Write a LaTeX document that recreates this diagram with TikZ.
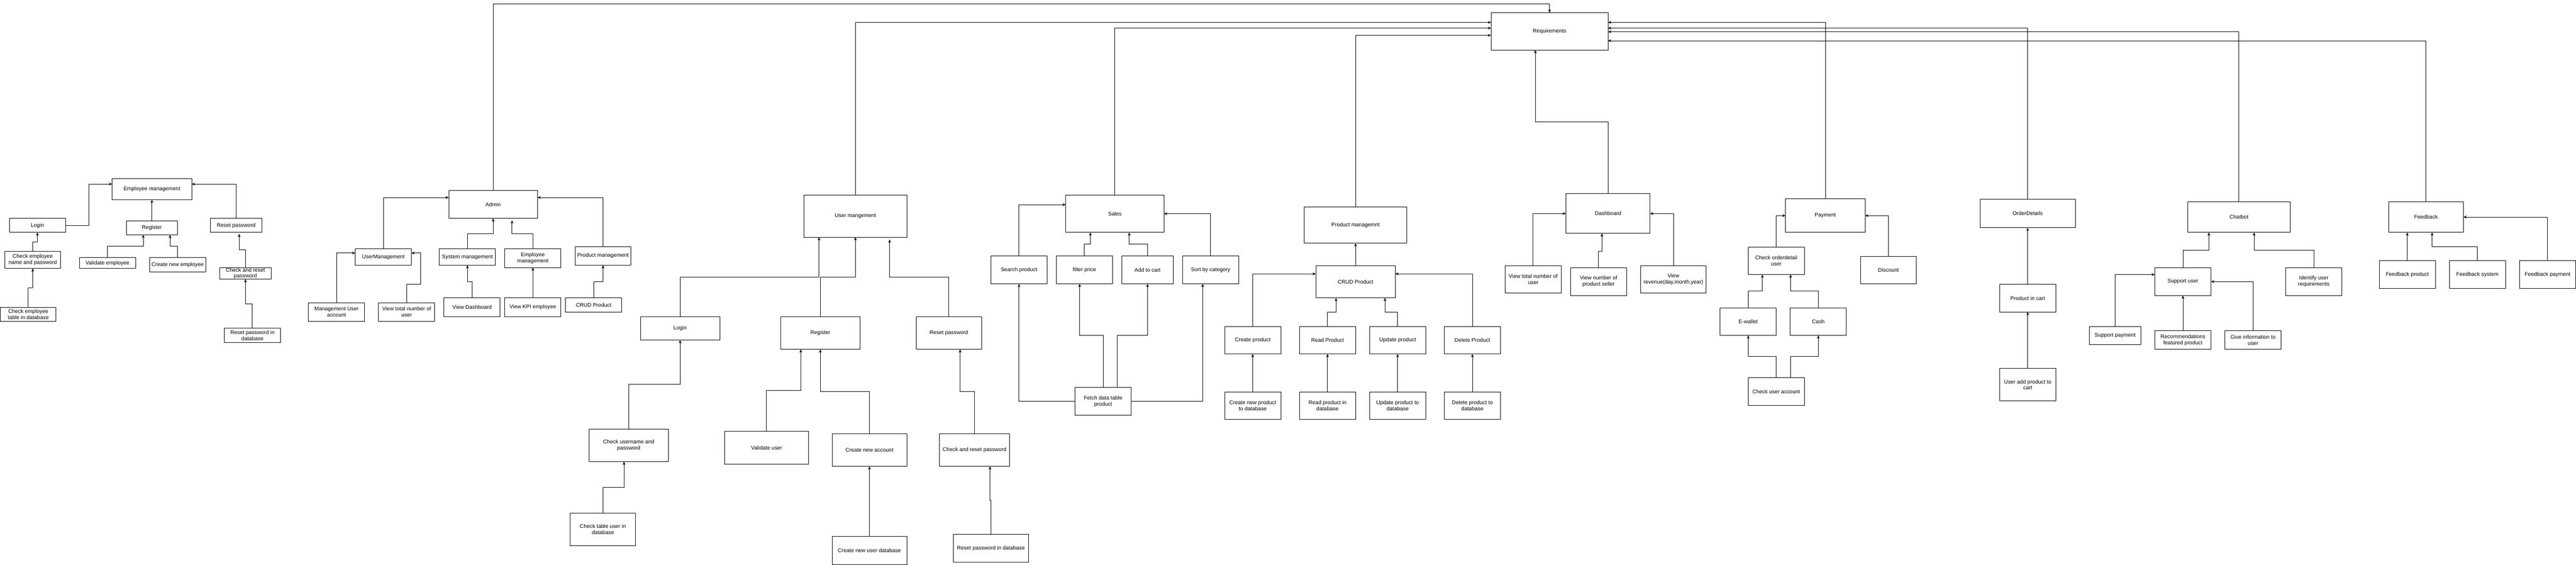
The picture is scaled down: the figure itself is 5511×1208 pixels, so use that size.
\documentclass[tikz,border=0pt]{standalone}
\usepackage{fontspec}
\setmainfont{Liberation Sans}
\usetikzlibrary{arrows.meta}
\tikzset{
  bx/.style={draw=black, line width=1pt, inner sep=0pt, outer sep=0pt, align=center, fill=white,
    font=\fontsize{11.5}{13}\selectfont},
  arr/.style={draw=black, line width=1pt, -{Stealth[length=7pt,width=6pt]}},
}
\newcommand\mybox[6]{\node[bx,minimum width=#4pt,minimum height=#5pt] (#1) at (#2,#3) {#6};}
\begin{document}
\begin{tikzpicture}[x=1pt,y=-1pt]
\useasboundingbox[fill=white] (0,0) rectangle (5511,1208);
% ---------- Employee management ----------
\mybox{empM}{325}{404.5}{170}{45}{Employee management}
\mybox{eLogin}{80}{482}{120}{30}{Login}
\mybox{eReg}{325}{487}{110}{30}{Register}
\mybox{eReset}{505}{482}{110}{30}{Reset password}
\mybox{eCheck}{70}{555.5}{120}{37}{Check employee\\name and password}
\mybox{eValid}{230}{562.5}{120}{23}{Validate employee}
\mybox{eCreate}{380}{566}{120}{30}{Create new employee}
\mybox{eCR}{525}{584.5}{110}{25}{Check and reset\\password}
\mybox{eTable}{60.5}{672}{119}{30}{Check employee\\table in database}
\mybox{eRDB}{540}{717}{120}{30}{Reset password in\\database}
% ---------- Admin ----------
\mybox{admin}{1055}{437}{190}{60}{Admin}
\mybox{aUM}{820}{549.5}{120}{35}{UserManagement}
\mybox{aSM}{1000}{549.5}{120}{35}{System management}
\mybox{aEM}{1140}{552}{120}{40}{Employee\\management}
\mybox{aPM}{1290}{547}{120}{40}{Product management}
\mybox{aMUA}{720}{667}{120}{40}{Management User\\account}
\mybox{aVTN}{870}{667}{120}{40}{View total number of\\user}
\mybox{aVD}{1010}{657}{120}{40}{View Dashboard}
\mybox{aKPI}{1140}{657}{120}{40}{View KPI employee}
\mybox{aCRUD}{1270}{652}{120}{30}{CRUD Product}
% ---------- User management ----------
\mybox{um}{1830}{462}{220}{90}{User mangement}
\mybox{uLogin}{1455}{702}{170}{50}{Login}
\mybox{uReg}{1755}{712}{170}{70}{Register}
\mybox{uReset}{2030}{712}{140}{70}{Reset password}
\mybox{uCheck}{1345}{952}{170}{70}{Check username and\\password}
\mybox{uValid}{1640}{957}{180}{70}{Validate user}
\mybox{uCreate}{1860}{962}{160}{70}{Create new account}
\mybox{uCR}{2085}{962}{150}{70}{Check and reset password}
\mybox{uTable}{1290}{1132}{140}{70}{Check table user in\\database}
\mybox{uCDB}{1860}{1177}{160}{60}{Create new user database}
\mybox{uRDB}{2120}{1172}{160}{60}{Reset password in database}
% ---------- Sales ----------
\mybox{sales}{2385}{457}{210}{80}{Sales}
\mybox{sSearch}{2180}{577}{120}{60}{Search product}
\mybox{sFilter}{2320}{577}{120}{60}{filter price}
\mybox{sAdd}{2455}{577}{110}{60}{Add to cart}
\mybox{sSort}{2590}{577}{120}{60}{Sort by category}
\mybox{sFetch}{2360}{858}{120}{60}{Fetch data table\\product}
% ---------- Product management ----------
\mybox{pm}{2900}{481.5}{220}{77}{Product managemnt}
\mybox{pCRUD}{2900}{602.5}{170}{69}{CRUD Product}
\mybox{pCreate}{2680}{727.5}{120}{59}{Create product}
\mybox{pRead}{2840}{727.5}{120}{59}{Read Product}
\mybox{pUpd}{2990}{727.5}{120}{59}{Update product}
\mybox{pDel}{3150}{727.5}{120}{59}{Delete Product}
\mybox{pCDB}{2680}{867.5}{120}{59}{Create new product\\to database}
\mybox{pRDB}{2840}{867.5}{120}{59}{Read product in\\database}
\mybox{pUDB}{2990}{867.5}{120}{59}{Update product to\\database}
\mybox{pDDB}{3150}{867.5}{120}{59}{Delete product to\\database}
% ---------- Requirements ----------
\mybox{req}{3315}{67}{250}{80}{Requirements}
% ---------- Dashboard ----------
\mybox{dash}{3440}{456.5}{180}{85}{Dashboard}
\mybox{dVTN}{3280}{597.5}{120}{59}{View total number of\\user}
\mybox{dVNP}{3420}{602}{120}{60}{View number of\\product seller}
\mybox{dRev}{3580}{597.5}{140}{59}{View\\revenue(day,month,year)}
% ---------- Payment ----------
\mybox{pay}{3905}{461}{170}{72}{Payment}
\mybox{payChk}{3800}{557.5}{120}{59}{Check orderdetail\\user}
\mybox{disc}{4040}{577.5}{120}{59}{Discount}
\mybox{ewal}{3740}{687.5}{120}{59}{E-wallet}
\mybox{cash}{3890}{687.5}{120}{59}{Cash}
\mybox{chkAcc}{3800}{837}{120}{60}{Check user account}
% ---------- OrderDetails ----------
\mybox{od}{4338}{456.5}{204}{61}{OrderDetails}
\mybox{pic}{4338}{637.5}{120}{59}{Product in cart}
\mybox{uapc}{4338}{822.5}{120}{69}{User add product to\\cart}
% ---------- Chatbot ----------
\mybox{chat}{4790}{464}{220}{66}{Chatbot}
\mybox{supU}{4670}{602}{120}{60}{Support user}
\mybox{idU}{4950}{602}{120}{60}{Identify user\\requirements}
\mybox{supP}{4525}{717.5}{110}{39}{Support payment}
\mybox{rec}{4670}{727}{120}{40}{Recommendations\\featured product}
\mybox{give}{4820}{727}{120}{40}{Give information to\\user}
% ---------- Feedback ----------
\mybox{fb}{5190}{464}{160}{66}{Feedback}
\mybox{fbP}{5150}{587}{120}{60}{Feedback product}
\mybox{fbS}{5300}{587}{120}{60}{Feedback system}
\mybox{fbPay}{5450}{587}{120}{60}{Feedback payment}

% ===== connectors: employee management =====
\draw[arr] (eLogin.east) -- ++(50.6,0) |- ([yshift=11pt]empM.west);
\draw[arr] (eReg.north) -- (empM.south);
\draw[arr] (eReset.north) |- ([yshift=11pt]empM.east);
\draw[arr] (eCheck.north) -- ++(0,-20) -| (eLogin.south);
\draw[arr] (eTable.north) -- ++(0,-41.3) -| (eCheck.south);
\draw[arr] (eValid.north) -- ++(0,-24.3) -| ([xshift=-18.6pt]eReg.south);
\draw[arr] (eCreate.north) -- ++(0,-24.3) -| ([xshift=38.8pt]eReg.south);
\draw[arr] (eCR.north) -- ++(0,-37.7) -| ([xshift=6.7pt,yshift=-3pt]eReset.south);
\draw[arr] (eRDB.north) -- ++(0,-52) -| (eCR.south);
% ===== admin =====
\draw[arr] (admin.north) |- ([yshift=19.3pt]req.north) -- (req.north);
\draw[arr] (aUM.north) |- ([yshift=14.7pt]admin.west);
\draw[arr] (aPM.north) |- ([yshift=14.7pt]admin.east);
\draw[arr] (aSM.north) -- ++(0,-32.3) -| (admin.south);
\draw[arr] (aEM.north) -- ++(0,-32.3) -| ([xshift=40.5pt,yshift=-4pt]admin.south);
\draw[arr] (aMUA.north) |- ([yshift=8.5pt]aUM.west);
\draw[arr] (aVTN.north) -- ++(0,-39.3) -- ++(30,0) |- ([yshift=8.5pt]aUM.east);
\draw[arr] (aVD.north) -- ++(0,-34.7) -| (aSM.south);
\draw[arr] (aKPI.north) -- (aEM.south);
\draw[arr] (aCRUD.north) -- ++(0,-34.7) -| (aPM.south);
% ===== user management =====
\draw[arr] (um.north) |- ([yshift=19.2pt]req.west);
\draw[arr] (uLogin.north) -- ++(0,-84.8) -| ([xshift=-77.8pt]um.south);
\draw[arr] (uReg.north) -- ++(0,-84.8) -| (um.south);
\draw[arr] (uReset.north) -- ++(0,-84.8) -| ([xshift=73.2pt,yshift=-5pt]um.south);
\draw[arr] (uCheck.north) -- ++(0,-95.2) -| (uLogin.south);
\draw[arr] (uTable.north) -- ++(0,-54.5) -| ([xshift=-10pt]uCheck.south);
\draw[arr] (uValid.north) -- ++(0,-87.4) -| ([xshift=-41.8pt]uReg.south);
\draw[arr] (uCreate.north) -- ++(0,-89.9) -| (uReg.south);
\draw[arr] (uCDB.north) -- (uCreate.south);
\draw[arr] (uCR.north) -- ++(0,-89.6) -| ([xshift=24pt]uReset.south);
\draw[arr] (uRDB.north) -- ++(0,-72) -| ([xshift=32.9pt]uCR.south);
% ===== sales =====
\draw[arr] (sales.north) |- ([yshift=6.9pt]req.west);
\draw[arr] (sSearch.north) |- ([yshift=19.4pt]sales.west);
\draw[arr] (sSort.north) |- (sales.east);
\draw[arr] (sFilter.north) -- ++(0,-24.7) -| ([xshift=-52.3pt]sales.south);
\draw[arr] (sAdd.north) -- ++(0,-24.7) -| ([xshift=30.8pt]sales.south);
\draw[arr] (sFetch.west) -| (sSearch.south);
\draw[arr] (sFetch.east) -| ([xshift=-17pt]sSort.south);
\draw[arr] (sFetch.north) -- ++(0,-110.7) -| ([xshift=-10.3pt]sFilter.south);
\draw[arr] ([xshift=30.3pt]sFetch.north) -- ++(0,-110.7) -| (sAdd.south);
% ===== product management =====
\draw[arr] (pm.north) |- ([yshift=-8.5pt]req.west);
\draw[arr] (pCRUD.north) -- (pm.south);
\draw[arr] (pCreate.north) |- ([yshift=17pt]pCRUD.west);
\draw[arr] (pDel.north) |- ([yshift=17pt]pCRUD.east);
\draw[arr] (pRead.north) -- ++(0,-30.8) -| ([xshift=-41.8pt]pCRUD.south);
\draw[arr] (pUpd.north) -- ++(0,-30.8) -| ([xshift=62.8pt]pCRUD.south);
\draw[arr] (pCDB.north) -- (pCreate.south);
\draw[arr] (pRDB.north) -- (pRead.south);
\draw[arr] (pUDB.north) -- (pUpd.south);
\draw[arr] (pDDB.north) -- (pDel.south);
% ===== dashboard =====
\draw[arr] (dash.north) -- ++(0,-153.6) -| ([xshift=-30.3pt]req.south);
\draw[arr] (dVTN.north) |- (dash.west);
\draw[arr] (dVNP.north) -- ++(0,-35) -| ([xshift=-13pt]dash.south);
\draw[arr] (dRev.north) |- (dash.east);
% ===== payment =====
\draw[arr] (pay.north) |- ([yshift=19.2pt]req.east);
\draw[arr] (payChk.north) |- (pay.west);
\draw[arr] (disc.north) |- (pay.east);
\draw[arr] (ewal.north) -- ++(0,-35.5) -| ([xshift=-29.6pt]payChk.south);
\draw[arr] (cash.north) -- ++(0,-35.5) -| ([xshift=30.6pt]payChk.south);
\draw[arr] (chkAcc.north) -- ++(0,-45) -| (ewal.south);
\draw[arr] ([xshift=30.6pt]chkAcc.north) -- ++(0,-45) -| (cash.south);
% ===== order details =====
\draw[arr] (od.north) |- ([yshift=6.9pt]req.east);
\draw[arr] (pic.north) -- (od.south);
\draw[arr] (uapc.north) -- (pic.south);
% ===== chatbot =====
\draw[arr] (chat.north) |- ([yshift=-1pt]req.east);
\draw[arr] (supU.north) -- ++(0,-37.3) -| ([xshift=-64.5pt]chat.south);
\draw[arr] (idU.north) -- ++(0,-37.3) -| ([xshift=32.4pt]chat.south);
\draw[arr] (supP.north) |- ([yshift=15pt]supU.west);
\draw[arr] (rec.north) -- (supU.south);
\draw[arr] (give.north) |- (supU.east);
% ===== feedback =====
\draw[arr] (fb.north) |- ([yshift=-20.1pt]req.east);
\draw[arr] (fbP.north) -- (fbP.north |- fb.south);
\draw[arr] (fbS.north) -- ++(0,-29.3) -| ([xshift=13pt]fb.south);
\draw[arr] (fbPay.north) |- (fb.east);
\end{tikzpicture}
\end{document}
